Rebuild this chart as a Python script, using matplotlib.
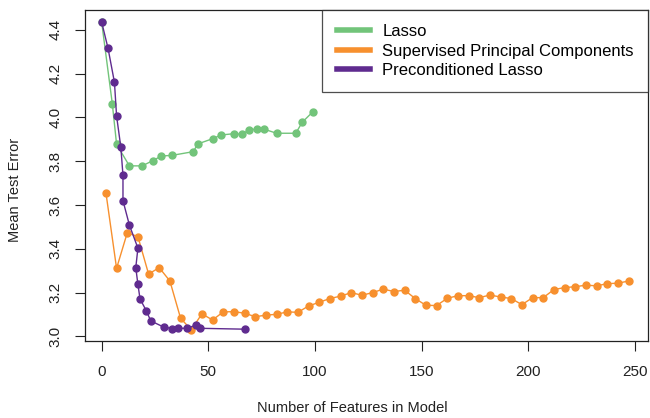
import numpy as np
import matplotlib
matplotlib.use("Agg")
import matplotlib.pyplot as plt

plt.rcParams['font.family'] = ['Liberation Sans', 'DejaVu Sans']

# Lasso
lasso_x = [0, 5, 7, 13, 19, 24, 28, 33, 43, 45, 52, 56, 62, 66, 69, 73, 76, 82, 91, 94, 99]
lasso_y = [4.436, 4.063, 3.878, 3.779, 3.779, 3.803, 3.824, 3.827, 3.844, 3.879, 3.903,
           3.920, 3.926, 3.923, 3.944, 3.947, 3.947, 3.928, 3.928, 3.978, 4.026]

# Supervised principal components
spc_x = list(range(2, 248, 5))
spc_y = [3.657, 3.311, 3.473, 3.456, 3.285, 3.314, 3.253, 3.083, 3.030, 3.103,
         3.075, 3.112, 3.113, 3.106, 3.090, 3.097, 3.101, 3.112, 3.110, 3.139,
         3.156, 3.173, 3.184, 3.200, 3.188, 3.200, 3.216, 3.205, 3.211, 3.173,
         3.142, 3.141, 3.174, 3.186, 3.186, 3.177, 3.189, 3.180, 3.173, 3.145,
         3.177, 3.177, 3.214, 3.223, 3.227, 3.234, 3.231, 3.241, 3.243, 3.253]

# Preconditioned lasso
pre_x = [0, 3, 6, 7, 9, 10, 10, 13, 17, 16, 17, 18, 21, 23, 29, 33, 36, 40, 44, 46, 67]
pre_y = [4.436, 4.316, 4.161, 4.007, 3.864, 3.736, 3.620, 3.509, 3.403, 3.314, 3.238,
         3.171, 3.116, 3.071, 3.043, 3.036, 3.037, 3.037, 3.051, 3.037, 3.033]

green = '#72c47a'
orange = '#f7902e'
purple = '#5f2b8f'

fig = plt.figure(figsize=(6.5, 4.18), dpi=100)
ax = fig.add_axes([85/650, 1 - 341/418, (648 - 85)/650, (341 - 10)/418])

ms = 5
ax.plot(lasso_x, lasso_y, '-o', color=green, lw=1, ms=ms, label='Lasso')
ax.plot(spc_x, spc_y, '-o', color=orange, lw=1, ms=ms, label='Supervised Principal Components')
ax.plot(pre_x, pre_y, '-o', color=purple, lw=1, ms=ms, label='Preconditioned Lasso')

ax.set_xlim(-7.8, 256.1)
ax.set_ylim(2.979, 4.491)
ax.set_xticks([0, 50, 100, 150, 200, 250])
ax.set_yticks([3.0, 3.2, 3.4, 3.6, 3.8, 4.0, 4.2, 4.4])
ax.set_yticklabels(['3.0', '3.2', '3.4', '3.6', '3.8', '4.0', '4.2', '4.4'],
                   rotation=90, va='center')
ax.tick_params(axis='both', length=7, width=0.8, colors='#222222', labelsize=11)
ax.tick_params(axis='x', pad=10)
ax.tick_params(axis='y', pad=9)
for s in ax.spines.values():
    s.set_linewidth(0.9)
    s.set_color('#222222')

ax.set_xlabel('Number of Features in Model', fontsize=10.5, color='#222222')
ax.set_ylabel('Mean Test Error', fontsize=10.5, color='#222222')
ax.xaxis.set_label_coords((352 - 85) / 563, -(401 - 341) / 331)
ax.yaxis.set_label_coords((22 - 85) / 563, 1 - (190 - 10) / 331)

leg = ax.legend(loc='upper right', bbox_to_anchor=(1, 1), borderaxespad=0,
                fancybox=False, edgecolor='#222222', fontsize=12,
                handlelength=2.0, handletextpad=0.75, labelspacing=0.27,
                borderpad=0.85)
leg.get_frame().set_linewidth(0.9)
for line in leg.get_lines():
    line.set_linewidth(4)
    line.set_marker('')

fig.savefig('out.png', dpi=100)
